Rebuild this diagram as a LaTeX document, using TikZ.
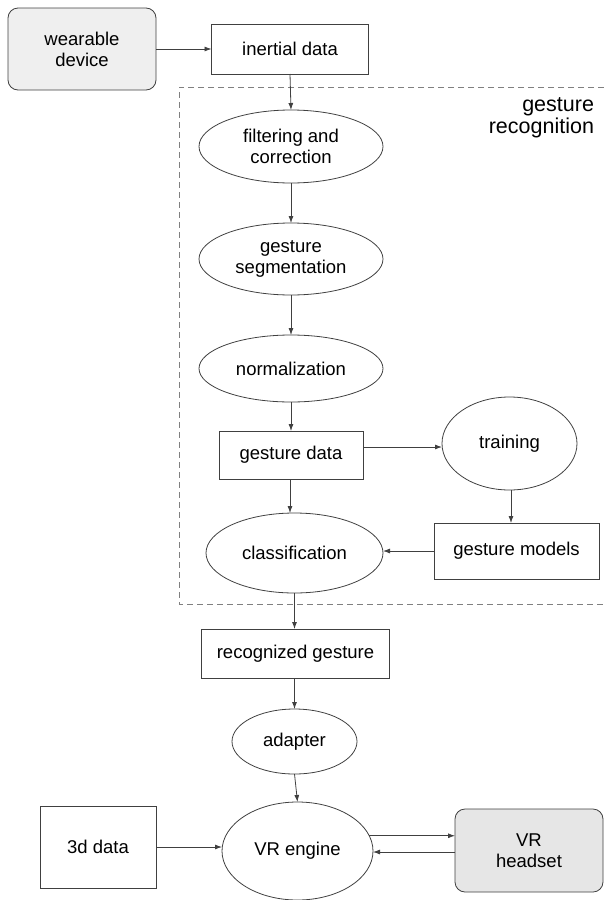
\documentclass[tikz,border=0pt]{standalone}
\usepackage{fontspec}
\setmainfont{Liberation Sans}
\usetikzlibrary{shapes.geometric,arrows.meta}
\definecolor{linec}{HTML}{404040}
\definecolor{lightbox}{HTML}{EFEFEF}
\definecolor{graybox}{HTML}{E6E6E6}
\begin{document}
\begin{tikzpicture}[x=1pt,y=-1pt,
  every node/.style={font=\fontsize{18.5}{21}\selectfont, text=black, align=center, inner sep=0pt, outer sep=0pt},
  rectbox/.style={draw=linec, line width=0.8pt, rectangle, minimum width=#1},
  rbox/.style={draw=linec, line width=0.8pt, rectangle, rounded corners=10pt},
  ell/.style={draw=linec, line width=0.8pt, ellipse},
  arr/.style={draw=linec, line width=0.8pt, -{Latex[length=7pt,width=5pt]}},
  grp/.style={draw=gray, line width=0.8pt, dash pattern=on 6pt off 4pt}
]
\useasboundingbox (0,0) rectangle (604,900);

% nodes
\node[rbox, fill=lightbox, minimum width=148pt, minimum height=82pt] (wear) at (82,49) {wearable\\device};
\node[rectbox=157pt, minimum height=50pt] (inert) at (290,49) {inertial data};
\node[ell, minimum width=184pt, minimum height=73pt] (filt) at (291,146.5) {filtering and\\correction};
\node[ell, minimum width=184pt, minimum height=72pt] (seg) at (291,259) {gesture\\segmentation};
\node[ell, minimum width=184pt, minimum height=67pt] (norm) at (291,368.5) {normalization};
\node[rectbox=144pt, minimum height=48pt] (gdata) at (291,455) {gesture data};
\node[ell, minimum width=135pt, minimum height=93pt] (train) at (509.5,443.5) {training};
\node[ell, minimum width=177pt, minimum height=80pt] (class) at (294.5,553) {classification};
\node[rectbox=165pt, minimum height=56pt] (gmod) at (516.5,551) {gesture models};
\node[rectbox=188pt, minimum height=49pt] (recog) at (295.5,653.5) {recognized gesture};
\node[ell, minimum width=125pt, minimum height=65pt] (adapt) at (294.5,741.5) {adapter};
\node[ell, minimum width=151pt, minimum height=98pt] (vr) at (297.5,851) {VR engine};
\node[rectbox=116pt, minimum height=82pt] (d3) at (98,847) {3d data};
\node[rbox, fill=graybox, minimum width=148pt, minimum height=83pt] (head) at (529,850.5) {VR\\headset};

% group frame
\draw[grp] (604,87) -- (179,87) -- (179,604) -- (604,604);
\node[anchor=north east, align=right, font=\fontsize{21.5}{22}\selectfont] (glabel) at (594,98) {gesture\\recognition};

% connectors
\draw[arr] (wear.east) -- (inert.west);
\draw[arr] (inert.south) -- (filt.north);
\draw[arr] (filt.south) -- (seg.north);
\draw[arr] (seg.south) -- (norm.north);
\draw[arr] (norm.south) -- (gdata.north);
\draw[arr] ([yshift=8pt]gdata.east) -- ([yshift=8pt]gdata.east -| train.west);
\draw[arr] ([xshift=-1pt]gdata.south) -- ([xshift=-1pt]gdata.south |- class.north);
\draw[arr] ([xshift=1.5pt]train.south) -- ([xshift=1.5pt]train.south |- gmod.north);
\draw[arr] (gmod.west) -- (gmod.west -| class.east);
\draw[arr] (class.south) -- (class.south |- recog.north);
\draw[arr] (recog.south) -- (recog.south -| adapt.north) -- (adapt.north);
\draw[arr] (adapt.south) -- (vr.north);
\draw[arr] (d3.east) -- (d3.east -| vr.west);
\draw[arr] (vr.12.6) -- (vr.12.6 -| head.west);
\draw[arr] ([yshift=-1.5pt]head.west) -- ([yshift=-1.5pt]head.west -| vr.east);
\end{tikzpicture}
\end{document}
